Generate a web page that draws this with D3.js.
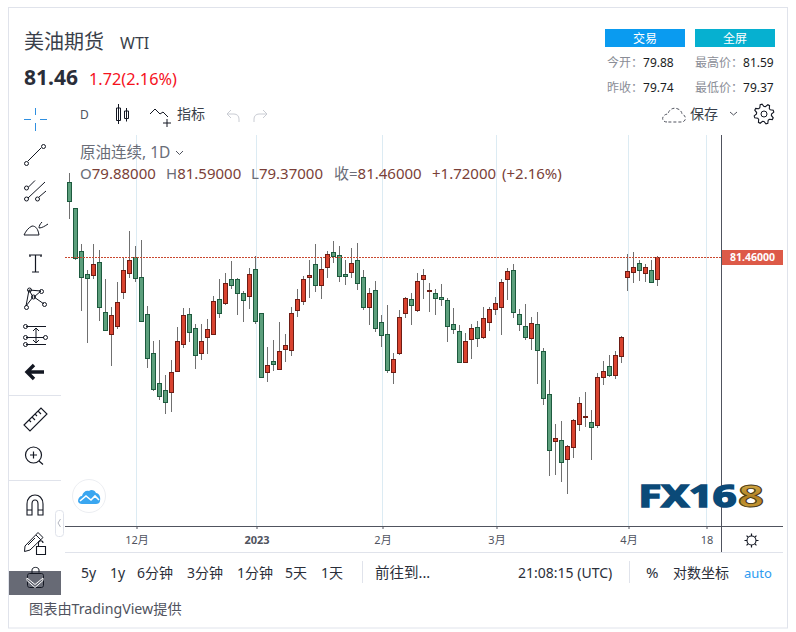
<!DOCTYPE html>
<html>
<head>
<meta charset="utf-8">
<script src="https://cdn.jsdelivr.net/npm/d3@7"></script>
<style>
  html, body { margin: 0; padding: 0; background: #fff; }
  svg { display: block; }
  text { font-family: "Noto Sans", "Noto Sans CJK SC", sans-serif; }
</style>
</head>
<body>
<div id="plot"></div>
<script>
// candles, oldest first
const open = [86.86,84.99,81.89,80.24,80.21,81.10,77.50,75.97,76.54,78.99,80.36,81.46,80.02,77.36,74.55,72.39,71.89,71.79,73.30,75.25,
  77.36,76.35,74.60,75.75,75.97,78.44,78.20,79.88,79.88,78.87,78.70,80.60,77.43,73.23,73.97,73.45,74.89,74.81,77.69,78.34,
  80.07,80.96,79.45,80.79,81.82,81.61,80.24,80.43,81.25,80.02,77.91,79.09,76.78,75.92,73.23,74.60,77.48,78.44,77.69,79.93,
  79.06,78.87,78.58,78.37,76.64,76.13,73.95,75.61,76.42,75.75,76.83,77.77,77.91,79.93,80.53,77.36,76.49,75.68,76.64,74.69,
  71.60,68.26,68.29,66.97,67.83,69.49,69.99,69.58,69.41,72.87,73.61,73.01,74.39,80.07,80.43,81.03,80.36,80.53,79.88];
const high = [87.51,84.99,82.42,80.55,82.42,81.99,79.90,77.89,79.69,81.44,83.36,82.28,82.71,77.96,75.44,75.51,72.99,74.07,76.45,77.81,
  77.81,76.66,76.66,77.02,78.68,79.90,80.33,81.20,79.95,79.01,80.69,81.56,77.43,75.00,75.51,76.81,75.94,77.89,79.18,80.12,
  81.27,82.42,81.46,81.89,82.64,82.28,81.27,82.13,82.49,80.55,79.25,79.76,77.31,78.03,74.57,77.67,78.61,78.89,80.33,80.62,
  79.61,79.16,79.54,78.53,77.81,76.59,76.01,76.66,76.88,77.89,77.86,78.61,79.90,80.69,80.98,77.74,78.10,77.17,77.53,74.93,
  72.63,69.46,69.68,67.95,69.80,71.41,71.77,70.47,73.11,73.99,74.43,74.72,75.80,81.70,81.85,81.27,80.98,81.27,81.59];
const low = [84.25,81.25,77.62,75.32,79.93,76.90,76.25,73.66,76.33,78.46,80.00,79.71,76.83,73.52,71.86,71.21,70.21,70.35,73.30,74.96,
  75.39,73.42,74.07,74.50,75.97,77.12,78.05,79.21,77.31,76.81,77.74,76.64,72.80,72.51,73.28,73.45,73.93,74.36,77.17,78.03,
  78.53,78.97,78.46,79.97,81.08,79.69,79.47,79.97,79.11,77.67,76.59,76.09,75.01,73.13,72.34,74.43,77.09,76.59,77.53,78.46,
  77.53,77.31,77.96,75.37,75.94,73.85,73.85,74.14,75.01,75.61,76.16,77.31,75.87,78.39,77.09,76.16,75.51,74.79,72.34,70.83,
  65.72,65.79,65.29,64.42,67.01,68.96,69.27,66.87,69.17,72.27,72.85,72.70,73.85,79.03,79.61,79.73,79.69,79.61,79.37];
const close = [85.54,81.39,80.07,80.00,80.96,77.91,76.25,77.29,78.22,80.53,81.25,80.00,76.90,74.24,72.01,71.50,71.07,73.18,75.41,77.29,
  76.11,74.45,75.41,76.28,78.29,77.48,79.59,79.49,78.92,78.41,80.24,76.90,72.87,73.69,73.81,74.69,75.13,77.43,78.44,79.88,
  80.17,79.49,80.60,81.68,81.58,80.14,80.14,81.03,79.64,77.91,78.87,76.40,75.89,73.37,74.12,77.14,78.51,78.05,79.73,80.17,
  79.11,78.56,78.49,76.54,76.33,73.95,75.41,76.35,75.68,77.07,77.72,78.15,79.66,80.45,77.55,76.69,75.75,76.71,74.81,71.36,
  67.61,68.43,66.75,67.85,69.73,70.95,70.04,69.27,72.82,73.25,73.01,74.41,75.70,80.45,80.74,80.57,80.74,79.71,81.46];

const lastPrice = 81.46;
const tickIndex = [11, 31, 52, 71, 93, 106];
const tickLabels = ["12月", "2023", "2月", "3月", "4月", "18"];

const svg = d3.select("div#plot").append("svg")
    .attr("width", 796)
    .attr("height", 632);

const label = (x, y, str, size, fill, extra) => {
  const t = svg.append("text").attr("x", x).attr("y", y)
      .attr("font-size", size).attr("fill", fill).text(str);
  if (extra) extra(t);
  return t;
};

// outer card
svg.append("rect").attr("x", 8.5).attr("y", 7.5).attr("width", 779).attr("height", 620.5)
    .attr("fill", "#fff").attr("stroke", "#e0e3eb");

// scales: one step per trading day, six pixels apart
const x = d3.scaleLinear().domain([0, 98]).range([69.5, 657.5]);
const y = d3.scaleLinear().domain([60, 90]).range([555.4, 138.7]);

// pane
const pane = svg.append("g");
pane.selectAll("line.grid")
  .data(tickIndex)
  .join("line")
    .attr("class", "grid")
    .attr("x1", d => x(d) + 1).attr("x2", d => x(d) + 1)
    .attr("y1", 135).attr("y2", 526)
    .attr("stroke", "#dcebf3");

// watermark logo
const defs = svg.append("defs");
const gold = defs.append("linearGradient").attr("id", "gold").attr("x1", 0).attr("x2", 0).attr("y1", 0).attr("y2", 1);
gold.append("stop").attr("offset", "0%").attr("stop-color", "#e8c660");
gold.append("stop").attr("offset", "55%").attr("stop-color", "#b07f22");
gold.append("stop").attr("offset", "100%").attr("stop-color", "#d9ae45");
label(638.5, 506.5, "FX16", 30, "#0b4a78", t => t
    .attr("font-family", "DejaVu Sans").attr("font-weight", "bold")
    .attr("textLength", 98).attr("lengthAdjust", "spacingAndGlyphs")
    .attr("stroke", "#0b4a78").attr("stroke-width", 1.6));
label(738, 506.5, "8", 30, "url(#gold)", t => t
    .attr("font-family", "DejaVu Sans").attr("font-weight", "bold")
    .attr("textLength", 26).attr("lengthAdjust", "spacingAndGlyphs")
    .attr("stroke", "#4a3a18").attr("stroke-width", 0.9));

// tradingview badge
svg.append("circle").attr("cx", 89).attr("cy", 496).attr("r", 16.5)
    .attr("fill", "#fff").attr("stroke", "#eceef2").attr("stroke-width", 1);
svg.append("path").attr("transform", "translate(78,489)")
    .attr("d", "M0 12 C0 9 2 7 4 7 C5 3 8 1 11 2 C13 0 17 1 18 4 C21 4 23 8 22 12 C22 14 20 15 18 15 L4 15 C2 15 0 14 0 12 Z")
    .attr("fill", "#3aa6f0");
svg.append("path").attr("transform", "translate(78,489)")
    .attr("d", "M2 12 L8 7 L13 11 L17 7 L21 11")
    .attr("fill", "none").attr("stroke", "#fff").attr("stroke-width", 1.6);

// candles
const isUp = i => close[i] >= open[i];
const candles = pane.selectAll("g.candle")
  .data(d3.range(close.length))
  .join("g")
    .attr("class", "candle");

candles.append("line")
    .attr("x1", d => x(d)).attr("x2", d => x(d))
    .attr("y1", d => Math.round(y(high[d])))
    .attr("y2", d => Math.round(y(low[d])))
    .attr("stroke", "#707070");

candles.append("rect")
    .attr("x", d => x(d) - 2)
    .attr("y", d => Math.round(y(Math.max(open[d], close[d]))) + 0.5)
    .attr("width", 4)
    .attr("height", d => Math.max(Math.round(y(Math.min(open[d], close[d]))) - Math.round(y(Math.max(open[d], close[d]))), 0.6))
    .attr("fill", d => isUp(d) ? "#d9432f" : "#5c9f7c")
    .attr("stroke", d => isUp(d) ? "#6e1c14" : "#1d5a3e");

// last price line and crosshair
pane.append("line")
    .attr("x1", 65).attr("x2", 722)
    .attr("y1", Math.round(y(lastPrice)) + 0.5).attr("y2", Math.round(y(lastPrice)) + 0.5)
    .attr("stroke", "#c9482f").attr("stroke-dasharray", "2 1");
pane.append("line")
    .attr("x1", 721.5).attr("x2", 721.5).attr("y1", 135).attr("y2", 552)
    .attr("stroke", "#50535e");

// price tag
svg.append("rect").attr("x", 722).attr("y", 250).attr("width", 61).attr("height", 15).attr("fill", "#dd5a48");
label(752.5, 261, d3.format(".5f")(lastPrice), 10.5, "#fff", t => t.attr("text-anchor", "middle").attr("font-weight", "bold"));

// time axis
const axis = svg.append("g")
    .attr("transform", "translate(1,526)")
    .call(d3.axisBottom(x)
      .tickValues(tickIndex)
      .tickFormat((d, i) => tickLabels[i])
      .tickSize(3)
      .tickPadding(7));
axis.select(".domain").remove();
axis.selectAll("line").attr("stroke", "#50535e");
axis.selectAll("text")
    .attr("fill", "#50535e")
    .attr("font-size", 11)
    .attr("font-family", "\"Noto Sans\", \"Noto Sans CJK SC\", sans-serif")
    .attr("font-weight", (d, i) => tickLabels[i] === "2023" ? "bold" : "normal");
svg.append("line").attr("x1", 65).attr("x2", 783).attr("y1", 526.5).attr("y2", 526.5).attr("stroke", "#50535e");
svg.append("line").attr("x1", 65).attr("x2", 783).attr("y1", 552.5).attr("y2", 552.5).attr("stroke", "#e0e3eb");

// header
label(24, 49, "美油期货", 20, "#3a3f4a");
label(120, 49, "WTI", 16, "#3a3f4a");
label(24, 85, "81.46", 21, "#2a2e39", t => t.attr("font-weight", "bold"));
label(89, 85, "1.72(2.16%)", 16.3, "#f5121d");

// buttons
[[605, "交易", "#0a9bf0"], [695, "全屏", "#06b0d0"]].forEach(b => {
  svg.append("rect").attr("x", b[0]).attr("y", 29).attr("width", 80).attr("height", 18).attr("fill", b[2]);
  label(b[0] + 40, 43, b[1], 12, "#fff", t => t.attr("text-anchor", "middle"));
});

// day stats
[[607, 67, "今开：", "79.88"], [695, 67, "最高价：", "81.59"],
 [607, 92, "昨收：", "79.74"], [695, 92, "最低价：", "79.37"]].forEach(s => {
  const t = label(s[0], s[1], "", 12, "#8a8d96");
  t.append("tspan").text(s[2]);
  t.append("tspan").attr("fill", "#1a1c22").text(s[3]);
});

// top toolbar
label(80, 119, "D", 12, "#50535e");
const iconStroke = "#131722";
const icon = (tx, ty, d, opts) => svg.append("path")
    .attr("transform", `translate(${tx},${ty})`)
    .attr("d", d)
    .attr("fill", "none")
    .attr("stroke", (opts && opts.stroke) || iconStroke)
    .attr("stroke-width", (opts && opts.width) || 1)
    .attr("stroke-dasharray", (opts && opts.dash) || null);

icon(116, 104, "M2.5 0V20 M0.5 4H4.5V16.5H0.5Z M10.5 4V17.5 M8.5 7H12.5V14.5H8.5Z");
icon(150, 107, "M0 7L5 2L10 7L13 5L18 10 M17 12V20 M13 16H21");
label(177, 119, "指标", 14, "#3a3f4a");
icon(226, 110, "M5 0L1 4L5 8 M1 4H8C11 4 13 6 13 9V12", {stroke: "#c9ccd3"});
icon(254, 110, "M9 0L13 4L9 8 M13 4H5C2 4 0 6 0 9V12", {stroke: "#c9ccd3"});
icon(662, 106, "M5 16C1 16 0 13 1 11C2 9 4 8 6 8C7 3 12 1 16 3C19 4 20 7 20 8C23 9 24 12 23 14C22 16 20 16 18 16Z", {dash: "3 2", stroke: "#50535e"});
label(690, 119, "保存", 14, "#3a3f4a");
icon(730, 112, "M0 0L3.5 3L7 0", {stroke: "#50535e"});

// cog outline from alternating radii
const cog = d3.lineRadial().curve(d3.curveLinearClosed)(
  d3.range(32).map(i => {
    const k = i % 4;
    return [i * Math.PI / 16 + Math.PI / 16, k === 1 || k === 2 ? 10 : 7.5];
  }));
svg.append("path").attr("transform", "translate(764,114)").attr("d", cog)
    .attr("fill", "none").attr("stroke", iconStroke).attr("stroke-width", 1.1);
svg.append("circle").attr("cx", 764).attr("cy", 114).attr("r", 3).attr("fill", "none").attr("stroke", iconStroke);

// sun in the corner
const sunRays = d3.range(8).map(i => {
  const a = i * Math.PI / 4;
  return `M${751.5 + Math.cos(a) * 4.5} ${540.5 + Math.sin(a) * 4.5}L${751.5 + Math.cos(a) * 7} ${540.5 + Math.sin(a) * 7}`;
}).join(" ");
svg.append("path").attr("d", sunRays).attr("stroke", iconStroke).attr("stroke-width", 1.2);
svg.append("circle").attr("cx", 751.5).attr("cy", 540.5).attr("r", 4.5).attr("fill", "none").attr("stroke", iconStroke).attr("stroke-width", 1.1);

// left toolbar
icon(24, 108, "M11.5 0V7 M11.5 15V23 M0 11.5H7 M16 11.5H23", {stroke: "#2f8fe0"});
icon(24, 143, "M4 18L17 5", {});
svg.selectAll("circle.node")
  .data([[26.5, 163.5], [43.5, 146.5], [26.5, 188], [26.5, 199], [37.5, 199], [29.5, 290], [41.5, 291.5], [26.5, 307.5], [33.5, 297], [44.5, 304.5], [25.5, 326.5], [25.5, 337.5], [25.5, 344.5], [45.5, 337.5]])
  .join("circle")
    .attr("class", "node")
    .attr("cx", d => d[0]).attr("cy", d => d[1]).attr("r", 2)
    .attr("fill", "#fff").attr("stroke", iconStroke);
icon(24, 180, "M4.5 7L11 0.5 M4 18L21 2 M15 17L22 11", {});
icon(24, 218, "M0 17H15C14 11 12 8 8 8C4 10 2 13 0 17Z M18 4C16 6 15 8 15 10C18 10 21 8 24 6", {});
icon(29, 254, "M0 1H13 M6.5 1V18 M3 18H10 M1 1V3 M12 1V3", {width: 1.2});
icon(24, 289, "M5 1L2 17 M17 2L10 8L20 15 M5 1L9 8L2 17 M5 1L17 2", {});
icon(24, 325, "M2 1.5H22 M2 12.5H20 M2 19.5H22 M12 4V18 M9 6L12 3L15 6 M9 15L12 18L15 15", {});
icon(26, 364, "M8 1L1 8L8 15 M2 8H18", {width: 3.4});
svg.append("line").attr("x1", 9).attr("x2", 61).attr("y1", 395.5).attr("y2", 395.5).attr("stroke", "#e0e3eb");
svg.append("line").attr("x1", 9).attr("x2", 61).attr("y1", 480.5).attr("y2", 480.5).attr("stroke", "#e0e3eb");
icon(23, 408, "M1 17L18 0L24 6L7 23Z M6 12L8 14 M9 9L12 12 M12 6L14 8 M15 3L18 6", {width: 1.1});
icon(25, 446, "M14 15L18 18.5 M5 9H12 M8.5 5.5V12.5", {width: 1.2});
svg.append("circle").attr("cx", 33.5).attr("cy", 455).attr("r", 8).attr("fill", "none").attr("stroke", iconStroke).attr("stroke-width", 1.2);
icon(27, 495, "M0 20V9C0 3 4 0 8 0C12 0 16 3 16 9V20H11V9C11 7 10 5 8 5C6 5 5 7 5 9V20Z M0 15H5 M11 15H16", {width: 1.1});
// pencil with open padlock
icon(24, 530, "M1 16L14 2.5L19 7.5L6 20L0.5 21.5Z M12 5L17 10 M11 8L4 15");
icon(36, 540, "M0.5 6.5H9.5V14.5H0.5Z M2.5 6.5V3C2.5 0 7 0 7 3", {width: 1.1});

// collapse handle
svg.append("rect").attr("x", 55.5).attr("y", 510.5).attr("width", 8).attr("height", 26).attr("rx", 3)
    .attr("fill", "#fff").attr("stroke", "#e0e3eb");
icon(58, 519, "M2.5 0L0 4L2.5 8", {stroke: "#b2b5be"});

// grey strip with the lock and the chevron on top
svg.append("rect").attr("x", 9).attr("y", 571).attr("width", 52).attr("height", 24).attr("fill", "#676a75");
icon(27.5, 573.5, "M0 2C0 1 1 0 2 0H14C15 0 16 1 16 2V12C16 13 15 14 14 14H2C1 14 0 13 0 12Z");
icon(31, 566.5, "M1 7V3.5C1 0 8 0 8 3.5V6");
icon(27, 578, "M0 0L8 6.5L16 0V2.5L8 9.5L0 2.5Z", {stroke: "#fff", width: 1});

// legend line
const legend = label(80, 158, "原油连续, 1D", 15.5, "#6a6d78");
icon(176, 151, "M0 0L3.5 3.5L7 0", {stroke: "#50535e"});
const ohlcColor = "#7a3f38";
[[80, "O", "79.88000"], [166, "H", "81.59000"], [251, "L", "79.37000"], [334, "收=", "81.46000"]].forEach(o => {
  const t = label(o[0], 179, "", 15, ohlcColor);
  t.append("tspan").attr("fill", "#6a6d78").text(o[1]);
  t.append("tspan").text(o[2]);
});
label(432, 179, "+1.72000", 15, ohlcColor);
label(502, 179, "(+2.16%)", 15, ohlcColor);

// bottom bar
[[81, "5y"], [110, "1y"], [137, "6分钟"], [187, "3分钟"], [237, "1分钟"], [285, "5天"], [321, "1天"]].forEach(b => {
  label(b[0], 578, b[1], 14, "#2a2e39");
});
label(375, 578, "前往到...", 14.5, "#2a2e39");
label(518, 578, "21:08:15 (UTC)", 14, "#2a2e39");
svg.append("line").attr("x1", 362.5).attr("x2", 362.5).attr("y1", 561).attr("y2", 583).attr("stroke", "#e0e3eb");
svg.append("line").attr("x1", 629.5).attr("x2", 629.5).attr("y1", 561).attr("y2", 583).attr("stroke", "#e0e3eb");
label(646, 578, "%", 15, "#2a2e39");
label(673, 578, "对数坐标", 14, "#2a2e39");
label(744, 578, "auto", 13, "#2e9bf0");
label(29, 614, "图表由TradingView提供", 14.2, "#50535e");
</script>
</body>
</html>
